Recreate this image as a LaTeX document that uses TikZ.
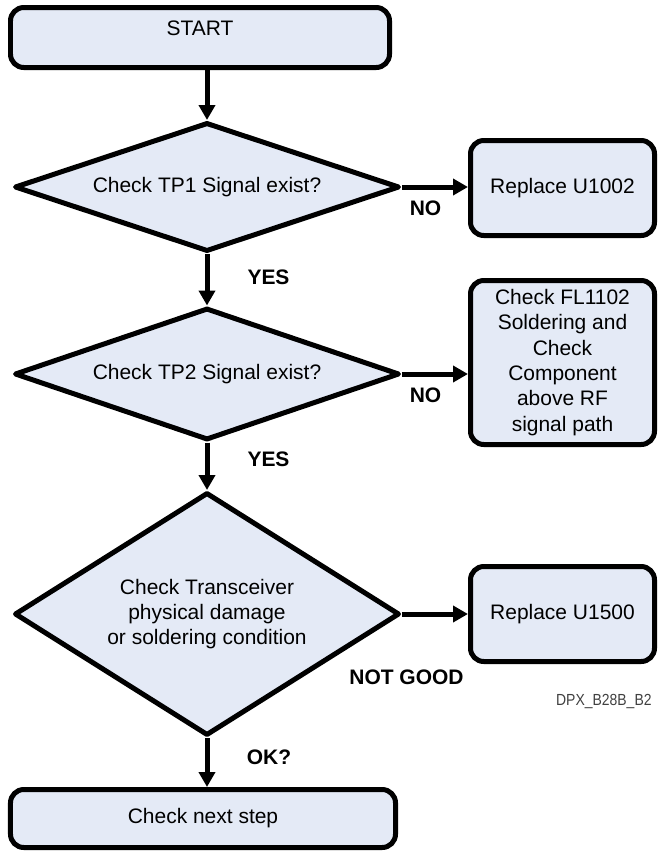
\documentclass[tikz,border=0pt]{standalone}
\usepackage{fontspec}
\setmainfont{Liberation Sans}
\usetikzlibrary{shapes.geometric,arrows.meta}
\definecolor{fond}{RGB}{228,234,246}

\begin{document}
\begin{tikzpicture}[line width=0.15cm,
  every node/.style={font=\fontsize{17.9}{21.6}\selectfont, align=center},
  boite/.style={draw, fill=fond, rounded corners=0.4cm, inner sep=0pt},%boites arrondies
  test/.style={draw, fill=fond, diamond, inner sep=0pt, line join=round, minimum width=11.55cm},%losanges de test
  rep/.style={font=\fontsize{17.9}{21.6}\selectfont\bfseries},%reponses sur les fleches
  fleche/.style={-{Triangle[length=0.45cm,width=0.48cm]}}]
  \useasboundingbox (0,0) rectangle (19.77,-25.59);

  \node[boite, minimum width=11.37cm, minimum height=1.8cm, text height=0.45cm, text depth=0.57cm] (start) at (6,-1.125) {START};

  \node[test, aspect=3, minimum height=3.87cm] (d1) at (6.21,-5.61) {Check TP1 Signal exist?};
  \node[test, aspect=3, minimum height=3.96cm] (d2) at (6.21,-11.22) {Check TP2 Signal exist?};
  \node[test, aspect=1.58, minimum height=7.29cm] (d3) at (6.21,-18.42) {Check Transceiver\\physical damage\\or soldering condition};

  \node[boite, minimum width=11.55cm, minimum height=1.74cm] (fin) at (6.09,-24.555) {Check next step};

  % boites de droite
  \node[boite, minimum width=5.52cm, minimum height=2.85cm] (r1) at (16.875,-5.64) {Replace U1002};
  \node[boite, minimum width=5.52cm, minimum height=4.92cm] (fl) at (16.875,-10.875) {Check FL1102\\Soldering and\\Check\\Component\\above RF\\signal path};
  \node[boite, minimum width=5.52cm, minimum height=2.85cm] (r2) at (16.875,-18.42) {Replace U1500};

  \draw[fleche] (start.south -| d1.north) -- (d1.north);
  \draw[fleche] (d1.south) -- (d2.north);
  \draw[fleche] (d2.south) -- (d3.north);
  \draw[fleche] (d3.south) -- (d3.south |- fin.north);
  \draw[fleche] (d1.east) -- (d1.east -| r1.west);
  \draw[fleche] (d2.east) -- (d2.east -| fl.west);
  \draw[fleche] (d3.east) -- (d3.east -| r2.west);

  \node[rep] (non1) at (12.765,-6.24) {NO};
  \node[rep] (oui1) at (8.055,-8.31) {YES};
  \node[rep] (non2) at (12.765,-11.85) {NO};
  \node[rep] (oui2) at (8.055,-13.77) {YES};
  \node[rep] (pasbon) at (12.195,-20.31) {NOT GOOD};
  \node[rep] (ok) at (8.07,-22.71) {OK?};

  \node[anchor=east, text=black!75, font=\fontsize{13.7}{16}\selectfont] (ref) at (19.74,-21.03) {\scalebox{0.87}[1]{DPX\_B28B\_B2}};
\end{tikzpicture}
\end{document}
